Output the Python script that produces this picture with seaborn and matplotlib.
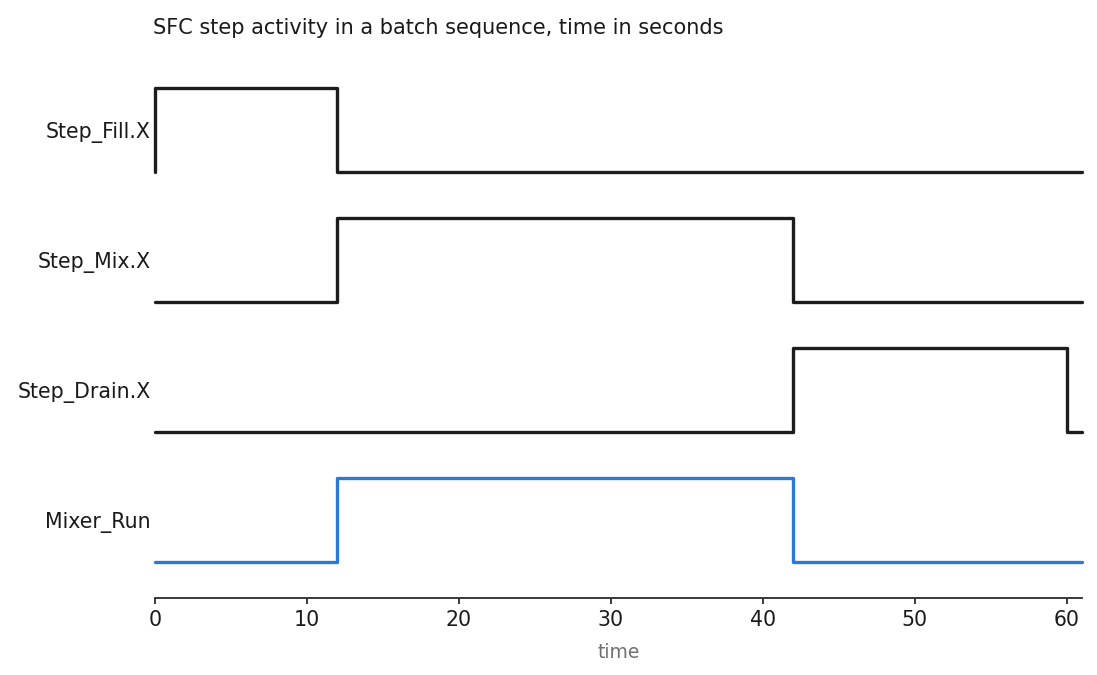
import matplotlib
matplotlib.use("Agg")
import matplotlib.pyplot as plt
import seaborn as sns
import pandas as pd

signals = ["Step_Fill.X", "Step_Mix.X", "Step_Drain.X", "Mixer_Run"]
fill_t = [0, 0, 12, 61]
fill_v = [0, 1, 0, 0]
mix_t = [0, 12, 42, 61]
mix_v = [0, 1, 0, 0]
drain_t = [0, 42, 60, 61]
drain_v = [0, 1, 0, 0]
run_t = [0, 12, 42, 61]
run_v = [0, 1, 0, 0]
colors = ["#1c1c1c", "#1c1c1c", "#1c1c1c", "#2b78d6"]

sns.set_theme(style="white")
plt.rcParams['font.family'] = ['DejaVu Sans']

fig = plt.figure(figsize=(10.97, 6.75), dpi=100)
ax = fig.add_axes([0.1413, 0.1141, 0.845, 0.809])

amp = 0.64
series = [(fill_t, fill_v), (mix_t, mix_v), (drain_t, drain_v), (run_t, run_v)]
n = len(signals)
ticks = []
for i, (name, (t, v), c) in enumerate(zip(signals, series, colors)):
    base = n - 1 - i
    df = pd.DataFrame({"time": t, "level": [base + amp * x for x in v]})
    sns.lineplot(data=df, x="time", y="level", ax=ax, color=c, linewidth=2.4,
                 drawstyle="steps-post", estimator=None, sort=False, clip_on=False)
    ticks.append(base + amp / 2)

ax.set_yticks(ticks)
ax.set_yticklabels(signals, fontsize=14.8, color="#1a1a1a")
ax.tick_params(axis="y", length=0, pad=3)
ax.set_ylim(-0.28, n - 1 + amp + 0.28)
ax.set_xlim(0, 61)
ax.set_xticks([0, 10, 20, 30, 40, 50, 60])
ax.tick_params(axis="x", labelsize=14.8, colors="#1a1a1a", length=4, width=1.2, bottom=True, pad=5)
for s in ["left", "top", "right"]:
    ax.spines[s].set_visible(False)
ax.spines["bottom"].set_color("#2a2a2a")
ax.spines["bottom"].set_linewidth(1.3)
ax.set_ylabel("")
ax.set_xlabel("time", fontsize=13.5, color="#707070", labelpad=9)
ax.set_title("SFC step activity in a batch sequence, time in seconds", loc="left",
             fontsize=15, color="#1a1a1a", pad=13, x=-0.002)

fig.savefig("out.png", dpi=100)
